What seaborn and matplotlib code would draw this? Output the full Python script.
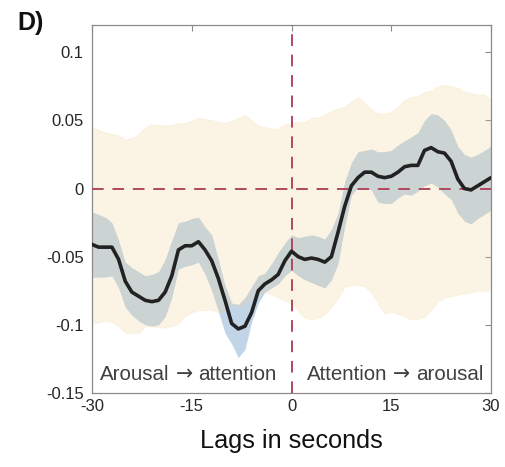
import numpy as np
import pandas as pd
import matplotlib
matplotlib.use("Agg")
import matplotlib.pyplot as plt
from matplotlib.offsetbox import TextArea, HPacker, AnnotationBbox
import seaborn as sns

# Cross-correlation of arousal and attention across lags (seconds)
lags = list(range(-30, 31))

corr_mean = [
    -0.041, -0.043, -0.043, -0.043, -0.052, -0.068, -0.076, -0.079, -0.082, -0.083,
    -0.082, -0.076, -0.064, -0.045, -0.042, -0.042, -0.039, -0.045, -0.053, -0.066,
    -0.082, -0.099, -0.103, -0.101, -0.091, -0.075, -0.070, -0.067, -0.063, -0.053,
    -0.046, -0.050, -0.052, -0.051, -0.052, -0.054, -0.050, -0.032, -0.013, 0.002,
    0.008, 0.012, 0.012, 0.009, 0.008, 0.009, 0.012, 0.016, 0.017, 0.017,
    0.028, 0.030, 0.027, 0.026, 0.020, 0.007, 0.000, -0.001, 0.002, 0.005,
    0.008,
]

ci_upper = [
    -0.017, -0.019, -0.021, -0.025, -0.038, -0.054, -0.058, -0.061, -0.064, -0.063,
    -0.061, -0.052, -0.038, -0.025, -0.024, -0.022, -0.021, -0.028, -0.034, -0.052,
    -0.071, -0.084, -0.085, -0.080, -0.072, -0.064, -0.062, -0.055, -0.047, -0.040,
    -0.034, -0.036, -0.035, -0.034, -0.035, -0.037, -0.030, -0.018, 0.005, 0.019,
    0.027, 0.028, 0.029, 0.027, 0.027, 0.028, 0.032, 0.035, 0.038, 0.041,
    0.050, 0.055, 0.054, 0.050, 0.043, 0.031, 0.025, 0.023, 0.025, 0.028,
    0.031,
]

ci_lower = [
    -0.065, -0.065, -0.065, -0.064, -0.073, -0.087, -0.093, -0.097, -0.100, -0.101,
    -0.100, -0.094, -0.080, -0.059, -0.057, -0.056, -0.054, -0.063, -0.075, -0.090,
    -0.106, -0.114, -0.124, -0.118, -0.098, -0.084, -0.076, -0.073, -0.070, -0.064,
    -0.060, -0.064, -0.067, -0.069, -0.071, -0.073, -0.067, -0.055, -0.028, -0.005,
    0.001, 0.000, -0.001, -0.010, -0.011, -0.011, -0.007, -0.004, -0.005, -0.002,
    0.002, 0.004, 0.001, -0.004, -0.008, -0.018, -0.024, -0.026, -0.022, -0.019,
    -0.016,
]

null_upper = [
    0.0456, 0.043, 0.041, 0.040, 0.039, 0.036, 0.037, 0.040, 0.045, 0.047,
    0.047, 0.046, 0.047, 0.048, 0.048, 0.050, 0.052, 0.051, 0.050, 0.049,
    0.048, 0.050, 0.052, 0.054, 0.050, 0.046, 0.045, 0.044, 0.044, 0.047,
    0.048, 0.049, 0.049, 0.052, 0.052, 0.054, 0.057, 0.059, 0.060, 0.064,
    0.067, 0.063, 0.058, 0.055, 0.055, 0.056, 0.060, 0.065, 0.067, 0.068,
    0.071, 0.072, 0.075, 0.076, 0.075, 0.074, 0.071, 0.070, 0.069, 0.069,
    0.065,
]

null_lower = [
    -0.0995, -0.098, -0.097, -0.098, -0.101, -0.1056, -0.106, -0.106, -0.101, -0.101,
    -0.102, -0.102, -0.101, -0.099, -0.093, -0.091, -0.089, -0.089, -0.089, -0.091,
    -0.090, -0.084, -0.087, -0.085, -0.080, -0.078, -0.076, -0.078, -0.080, -0.082,
    -0.084, -0.090, -0.095, -0.096, -0.095, -0.092, -0.087, -0.080, -0.072, -0.071,
    -0.071, -0.072, -0.076, -0.084, -0.092, -0.090, -0.092, -0.094, -0.096, -0.096,
    -0.094, -0.089, -0.083, -0.080, -0.079, -0.078, -0.077, -0.076, -0.075, -0.075,
    -0.0745,
]

x_ticks = [-30, -15, 0, 15, 30]
x_ticklabels = ["-30", "-15", "0", "15", "30"]
y_ticks = [-0.15, -0.1, -0.05, 0, 0.05, 0.1]
y_ticklabels = ["-0.15", "-0.1", "-0.05", "0", "0.05", "0.1"]
direction_labels = [("Arousal", "attention"), ("Attention", "arousal")]
direction_centers = [-15.5, 15.6]

sns.set_style("white")
plt.rcParams["font.family"] = ["Liberation Sans", "DejaVu Sans"]

df = pd.DataFrame({"lag": lags, "corr": corr_mean})

fig = plt.figure(figsize=(5.06, 4.67), dpi=100)
ax = fig.add_axes([0.1818, 0.1585, 0.7886, 0.788])

frame_col = "#8a8a8a"
dash_col = "#b0485f"

# confidence band of the observed correlation
ax.fill_between(lags, ci_lower, ci_upper, color="#c2d4e8", lw=0, zorder=1)
# null distribution band drawn translucent on top
ax.fill_between(lags, null_lower, null_upper, facecolor="#efd08a", alpha=0.22,
                edgecolor="#f5dca8", lw=0.8, zorder=2)

ax.axhline(0, color=dash_col, lw=1.4, dashes=(6, 4.5), zorder=3)
ax.axvline(0, color=dash_col, lw=1.4, dashes=(6, 4.5), zorder=3)

sns.lineplot(data=df, x="lag", y="corr", ax=ax, color="#222222", lw=2.6,
             estimator=None, zorder=4)

ax.set_xlim(-30, 30)
ax.set_ylim(-0.15, 0.12)
ax.set_xticks(x_ticks)
ax.set_xticklabels(x_ticklabels)
ax.set_yticks(y_ticks)
ax.set_yticklabels(y_ticklabels)
ax.tick_params(direction="in", length=4, width=0.8, color=frame_col,
               labelsize=12, labelcolor="#262626", top=True, right=True)
ax.tick_params(axis="x", pad=4)
ax.tick_params(axis="y", pad=6)
for sp in ax.spines.values():
    sp.set_visible(True)
    sp.set_color(frame_col)
    sp.set_linewidth(0.9)

ax.set_xlabel("Lags in seconds", fontsize=18.2, color="#111111", labelpad=11)
ax.set_ylabel("")

# direction labels: words in Liberation Sans, arrow glyph from DejaVu Sans
word_props = dict(fontsize=14.8, color="#404040", family="Liberation Sans")
arrow_props = dict(fontsize=14.8, color="#404040", family="DejaVu Sans")
for (left_word, right_word), xc in zip(direction_labels, direction_centers):
    box = HPacker(children=[TextArea(left_word, textprops=word_props),
                            TextArea("\u2192", textprops=arrow_props),
                            TextArea(right_word, textprops=word_props)],
                  align="baseline", pad=0, sep=4)
    ab = AnnotationBbox(box, (xc, -0.136), xycoords="data", frameon=False,
                        box_alignment=(0.5, 0.5), pad=0, zorder=5)
    ax.add_artist(ab)

fig.text(0.034, 0.951, "D)", fontsize=18, fontweight="bold", ha="left",
         va="center", color="#111111")

fig.savefig("out.png", dpi=100)
